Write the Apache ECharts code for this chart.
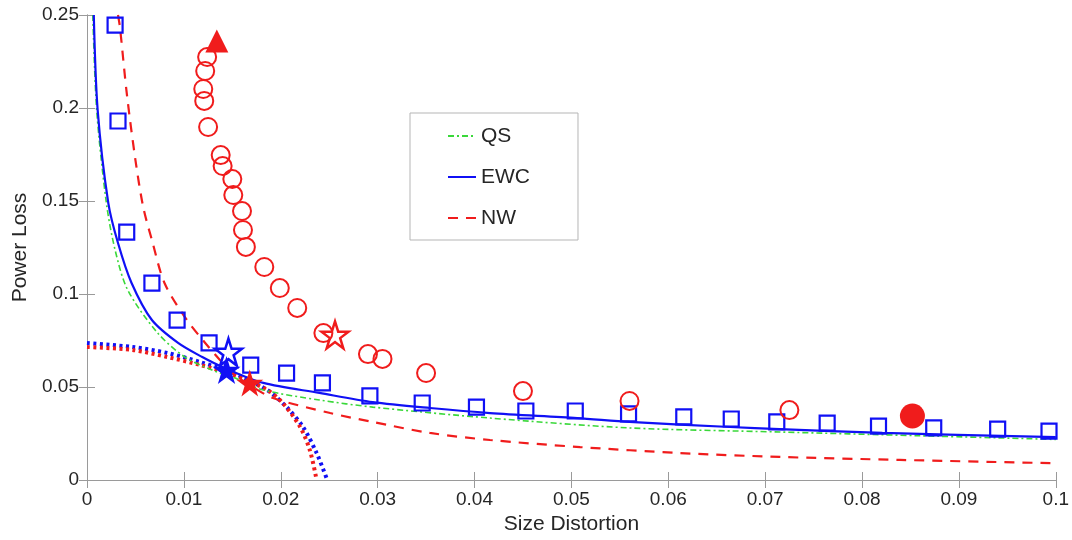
<!DOCTYPE html>
<html>
<head>
<meta charset="utf-8">
<script src="https://cdn.jsdelivr.net/npm/echarts@6/dist/echarts.min.js"></script>
<style>
html,body{margin:0;padding:0;background:#fff;}
#chart{width:1072px;height:540px;}
</style>
</head>
<body>
<div id="chart"></div>
<script>
// ---- data ----
const xTickLabels = ['0','0.01','0.02','0.03','0.04','0.05','0.06','0.07','0.08','0.09','0.1'];
const yTickLabels = ['0','0.05','0.1','0.15','0.2','0.25'];

const qsCurve = [[0.0006,0.25],[0.001,0.1989],[0.002,0.1489],[0.0029,0.1237],[0.0042,0.1022],[0.0073,0.079],[0.0101,0.0661],[0.0129,0.0591],[0.0153,0.0548],[0.0182,0.0484],[0.024,0.043],[0.0295,0.0392],[0.0416,0.0333],[0.056,0.028],[0.0715,0.0258],[0.0858,0.0238],[0.1,0.0218]];

const ewcCurve = [[0.0007,0.25],[0.0011,0.1989],[0.0022,0.1489],[0.0032,0.1274],[0.0046,0.1059],[0.0067,0.086],[0.0094,0.0737],[0.0119,0.0661],[0.0142,0.0602],[0.0182,0.0522],[0.024,0.0468],[0.0295,0.0419],[0.0354,0.0387],[0.0416,0.036],[0.0506,0.0333],[0.056,0.0312],[0.0664,0.0285],[0.0715,0.0274],[0.0821,0.0253],[0.1,0.023]];

const nwCurve = [[0.0032,0.25],[0.0034,0.2435],[0.0041,0.2081],[0.005,0.172],[0.0058,0.1468],[0.0067,0.129],[0.008,0.1059],[0.0101,0.0876],[0.0122,0.0737],[0.015,0.0575],[0.0168,0.051],[0.0192,0.0441],[0.0251,0.036],[0.0295,0.0312],[0.0354,0.0253],[0.0416,0.0215],[0.0509,0.0177],[0.0612,0.0145],[0.0715,0.0124],[0.0839,0.0108],[0.1,0.009]];

const ewcFrontier = [[0,0.0737],[0.0047,0.0715],[0.0083,0.0683],[0.0117,0.0634],[0.0151,0.0575],[0.0186,0.0484],[0.0206,0.0392],[0.0223,0.0285],[0.0237,0.0145],[0.0248,0]];
const nwFrontier = [[0,0.0715],[0.0047,0.0699],[0.0083,0.0661],[0.0117,0.0618],[0.0151,0.0565],[0.0186,0.0484],[0.0202,0.0414],[0.022,0.0285],[0.023,0.0161],[0.0237,0]];

const ewcSquares = [[0.0029,0.2446],[0.0032,0.193],[0.0041,0.1333],[0.0067,0.1059],[0.0093,0.086],[0.0126,0.0737],[0.0169,0.0618],[0.0206,0.0575],[0.0243,0.0522],[0.0292,0.0452],[0.0346,0.0414],[0.0402,0.0392],[0.0453,0.0371],[0.0504,0.0371],[0.0559,0.0355],[0.0616,0.0339],[0.0665,0.0328],[0.0712,0.0312],[0.0764,0.0306],[0.0817,0.029],[0.0874,0.028],[0.094,0.0274],[0.0993,0.0263]];

const nwCircles = [[0.0124,0.2274],[0.0122,0.2199],[0.012,0.2102],[0.0121,0.2038],[0.0125,0.1898],[0.0138,0.1747],[0.014,0.1688],[0.015,0.1618],[0.0151,0.1532],[0.016,0.1446],[0.0161,0.1344],[0.0164,0.1253],[0.0183,0.1145],[0.0199,0.1032],[0.0217,0.0925],[0.0244,0.079],[0.029,0.0677],[0.0305,0.0651],[0.035,0.0575],[0.045,0.0478],[0.056,0.0425],[0.0725,0.0376]];

const nwTriangle = [[0.0134,0.236]];
const nwDot = [[0.0852,0.0344]];
const ewcStarOpen = [[0.0146,0.0688]];
const ewcStarFilled = [[0.0144,0.0591]];
const nwStarOpen = [[0.0256,0.078]];
const nwStarFilled = [[0.0168,0.0522]];

// ---- styling ----
const BLUE = '#1010f5';
const RED = '#f01c1c';
const GREEN = '#3ad83a';
const STAR = 'path://M50,0 L61.2,34.5 L97.6,34.5 L68.2,55.9 L79.4,90.5 L50,69.1 L20.6,90.5 L31.8,55.9 L2.4,34.5 L38.8,34.5 Z';
const AXIS_COLOR = '#9a9a9a';
const TEXT_COLOR = '#262626';
const FONT = 'Liberation Sans, Arial, sans-serif';

const chart = echarts.init(document.getElementById('chart'), null, {renderer: 'canvas'});

function xLabel(v){ return xTickLabels[Math.round(v / 0.01)] ?? ''; }
function yLabel(v){ return yTickLabels[Math.round(v / 0.05)] ?? ''; }

const baseAxis = {
  axisLine: {show: true, lineStyle: {color: AXIS_COLOR, width: 1}},
  axisTick: {show: true, inside: true, length: 8, lineStyle: {color: AXIS_COLOR}},
  splitLine: {show: false}
};

function scatter(name, data, symbol, size, itemStyle, z) {
  return {name: name, type: 'scatter', data: data, symbol: symbol, symbolSize: size, z: z,
          itemStyle: Object.assign({opacity: 1}, itemStyle), emphasis: {disabled: true}};
}

const option = {
  animation: false,
  backgroundColor: '#fff',
  grid: {left: 87, right: 16, top: 15, bottom: 60, containLabel: false},
  xAxis: [
    Object.assign({}, baseAxis, {
      type: 'value', min: 0, max: 0.1, interval: 0.01, position: 'bottom',
      name: 'Size Distortion', nameLocation: 'middle', nameGap: 30,
      nameTextStyle: {fontFamily: FONT, fontSize: 21, color: TEXT_COLOR},
      axisLabel: {formatter: xLabel, margin: 10, fontFamily: FONT, fontSize: 19, color: TEXT_COLOR}
    }),
    Object.assign({}, baseAxis, {
      type: 'value', min: 0, max: 0.1, interval: 0.01, position: 'top',
      axisLabel: {show: false}
    })
  ],
  yAxis: [
    Object.assign({}, baseAxis, {
      type: 'value', min: 0, max: 0.25, interval: 0.05, position: 'left',
      name: 'Power Loss', nameLocation: 'middle', nameGap: 54, nameRotate: 90,
      nameTextStyle: {fontFamily: FONT, fontSize: 21, color: TEXT_COLOR},
      axisLabel: {formatter: yLabel, margin: 8, fontFamily: FONT, fontSize: 19, color: TEXT_COLOR}
    }),
    Object.assign({}, baseAxis, {
      type: 'value', min: 0, max: 0.25, interval: 0.05, position: 'right',
      axisLabel: {show: false}
    })
  ],
  legend: {
    orient: 'vertical', left: 410, top: 113,
    data: ['QS', 'EWC', 'NW'],
    backgroundColor: '#fff', borderColor: '#b5b5b5', borderWidth: 1,
    padding: [11, 48, 10, 37],
    itemWidth: 28, itemHeight: 14, itemGap: 17,
    itemStyle: {opacity: 0},
    textStyle: {fontFamily: FONT, fontSize: 21, color: TEXT_COLOR, lineHeight: 24}
  },
  series: [
    {name: 'EWC frontier', type: 'line', data: ewcFrontier, symbol: 'none', smooth: 0.3, z: 2,
     lineStyle: {color: BLUE, width: 4, type: [3, 3.5]}},
    {name: 'NW frontier', type: 'line', data: nwFrontier, symbol: 'none', smooth: 0.3, z: 2,
     lineStyle: {color: RED, width: 4, type: [3, 3.5]}},
    {name: 'QS', type: 'line', data: qsCurve, symbol: 'none', smooth: 0.3, z: 3,
     itemStyle: {color: GREEN},
     lineStyle: {color: GREEN, width: 1.6, type: [6, 3, 2, 3]}},
    {name: 'EWC', type: 'line', data: ewcCurve, symbol: 'none', smooth: 0.3, z: 3,
     itemStyle: {color: BLUE},
     lineStyle: {color: BLUE, width: 2.2}},
    {name: 'NW', type: 'line', data: nwCurve, symbol: 'none', smooth: 0.3, z: 3,
     itemStyle: {color: RED},
     lineStyle: {color: RED, width: 2.2, type: [10, 8]}},
    scatter('EWC points', ewcSquares, 'rect', 15, {color: 'rgba(0,0,0,0)', borderColor: BLUE, borderWidth: 2.2}, 4),
    scatter('NW points', nwCircles, 'circle', 18, {color: 'rgba(0,0,0,0)', borderColor: RED, borderWidth: 2}, 4),
    scatter('NW start', nwTriangle, 'triangle', 23, {color: RED}, 5),
    scatter('NW end', nwDot, 'circle', 25, {color: RED}, 5),
    scatter('EWC star open', ewcStarOpen, STAR, 27, {color: 'rgba(0,0,0,0)', borderColor: BLUE, borderWidth: 2.5}, 5),
    scatter('EWC star', ewcStarFilled, STAR, 28, {color: BLUE}, 5),
    scatter('NW star open', nwStarOpen, STAR, 27, {color: 'rgba(0,0,0,0)', borderColor: RED, borderWidth: 2.5}, 5),
    scatter('NW star', nwStarFilled, STAR, 27, {color: RED}, 5)
  ]
};
chart.setOption(option);
</script>
</body>
</html>
